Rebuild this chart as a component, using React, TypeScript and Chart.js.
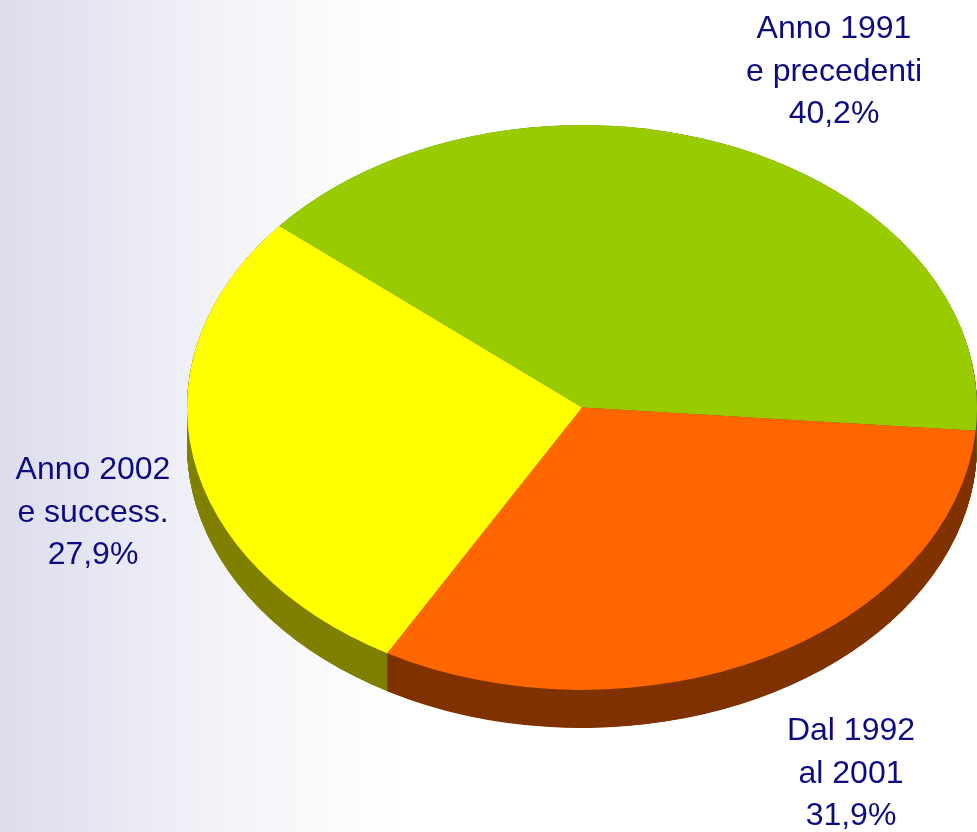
import React, { useEffect, useRef } from "react";
import { Chart, registerables } from "chart.js";

Chart.register(...registerables);

const categories = ["Anno 1991 e precedenti", "Dal 1992 al 2001", "Anno 2002 e success."];
const values = [40.2, 31.9, 27.9];
const labelLines = [
  ["Anno 1991", "e precedenti", "40,2%"],
  ["Dal 1992", "al 2001", "31,9%"],
  ["Anno 2002", "e success.", "27,9%"],
];
const topColors = ["#99cc00", "#ff6600", "#ffff00"];
const sideColors = ["#4d6600", "#803300", "#808000"];

const TILT = 0.715;
const DEPTH = 38;
// label anchor (center x, first baseline y) per slice
const labelPos = [
  [834, 38],
  [851, 740],
  [93, 479],
];

const bgPlugin = {
  id: "bg",
  beforeDraw(chart: any) {
    const { ctx, width, height } = chart;
    const g = ctx.createLinearGradient(0, 0, 400, 0);
    g.addColorStop(0, "#dcdcec");
    g.addColorStop(0.36, "#ebebf5");
    g.addColorStop(0.65, "#f6f6fa");
    g.addColorStop(1, "#ffffff");
    ctx.save();
    ctx.fillStyle = g;
    ctx.fillRect(0, 0, width, height);
    ctx.restore();
  },
};

const tiltPlugin = {
  id: "tilt3d",
  beforeDatasetsDraw(chart: any) {
    const { ctx } = chart;
    const meta = chart.getDatasetMeta(0);
    const cy = meta.data[0].y;
    ctx.save();
    ctx.translate(0, cy);
    ctx.scale(1, TILT);
    ctx.translate(0, -cy);
    const dd = DEPTH / TILT;
    for (let d = dd; d > 0; d -= 0.5) {
      meta.data.forEach((arc: any, i: number) => {
        const { x, y, startAngle, endAngle, outerRadius } = arc.getProps(
          ["x", "y", "startAngle", "endAngle", "outerRadius"],
          true
        );
        ctx.beginPath();
        ctx.moveTo(x, y + d);
        ctx.arc(x, y + d, outerRadius, startAngle, endAngle);
        ctx.closePath();
        ctx.fillStyle = sideColors[i];
        ctx.fill();
      });
    }
  },
  afterDatasetsDraw(chart: any) {
    chart.ctx.restore();
  },
};

const labelPlugin = {
  id: "labels3d",
  afterDraw(chart: any) {
    const { ctx } = chart;
    ctx.save();
    ctx.font = '32px "Liberation Sans", Arial, sans-serif';
    ctx.fillStyle = "#0c0c80";
    ctx.textAlign = "center";
    ctx.textBaseline = "alphabetic";
    labelLines.forEach((lines, i) => {
      const [x, y] = labelPos[i];
      lines.forEach((t, j) => ctx.fillText(t, x, y + j * 42.5));
    });
    ctx.restore();
  },
};

export default function App() {
  const ref = useRef<HTMLCanvasElement>(null);
  useEffect(() => {
    if (!ref.current) return;
    const chart = new Chart(ref.current, {
      type: "pie",
      data: {
        labels: categories,
        datasets: [
          {
            data: values,
            backgroundColor: topColors,
            borderWidth: 0,
            clip: false as any,
          },
        ],
      },
      options: {
        responsive: false,
        animation: false,
        rotation: -50,
        layout: { padding: { left: 187, right: 0, top: 0, bottom: 17 } },
        plugins: {
          legend: { display: false },
          tooltip: { enabled: false },
        },
      },
      plugins: [bgPlugin, tiltPlugin, labelPlugin],
    });
    return () => chart.destroy();
  }, []);
  return (
    <div style={{ position: "absolute", left: 0, top: 0, width: 977, height: 832 }}>
      <canvas ref={ref} width={977} height={832} style={{ display: "block" }} />
    </div>
  );
}
